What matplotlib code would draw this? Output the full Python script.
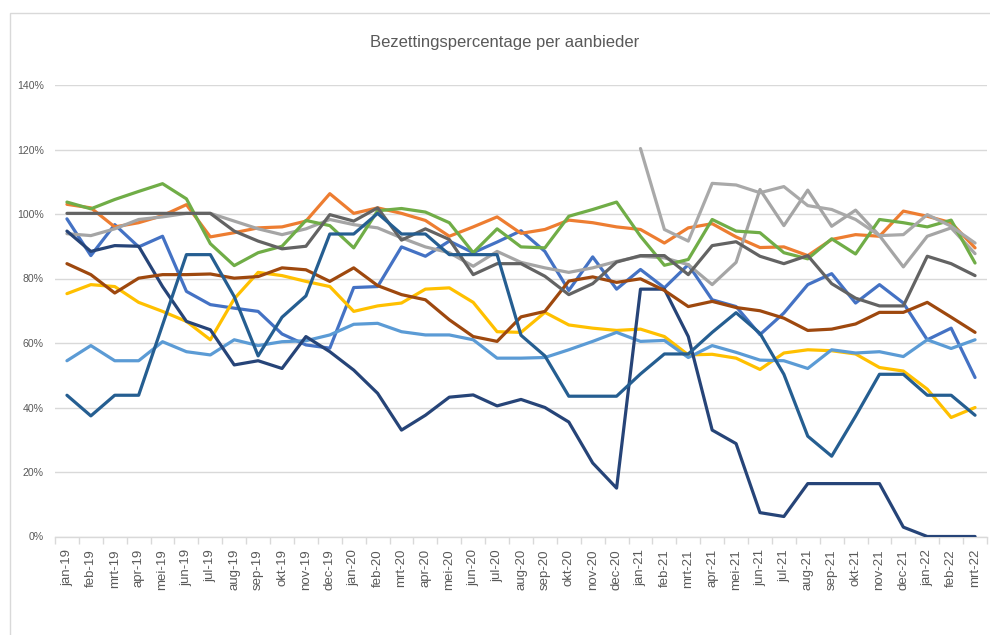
import numpy as np
import matplotlib
matplotlib.use("Agg")
import matplotlib.pyplot as plt
from matplotlib.patches import Rectangle
from matplotlib.ticker import FixedLocator, PercentFormatter

plt.rcParams["font.family"] = ["Liberation Sans", "DejaVu Sans"]

months = [
    "jan-19", "feb-19", "mrt-19", "apr-19", "mei-19", "jun-19", "jul-19", "aug-19", "sep-19", "okt-19", "nov-19", "dec-19",
    "jan-20", "feb-20", "mrt-20", "apr-20", "mei-20", "jun-20", "jul-20", "aug-20", "sep-20", "okt-20", "nov-20", "dec-20",
    "jan-21", "feb-21", "mrt-21", "apr-21", "mei-21", "jun-21", "jul-21", "aug-21", "sep-21", "okt-21", "nov-21", "dec-21",
    "jan-22", "feb-22", "mrt-22",
]

nan = np.nan

# bezetting per aanbieder, in procenten
aanbieder_1 = [98.5, 87.1, 96.7, 89.8, 93.1, 76.0, 71.9, 70.8, 69.8, 62.8, 59.4, 58.4,
               77.2, 77.5, 89.8, 86.9, 91.6, 88.0, 91.3, 94.8, 88.4, 76.3, 86.7, 76.7,
               82.8, 77.1, 84.3, 73.4, 71.3, 62.6, 69.3, 78.1, 81.5, 72.4, 78.1, 72.4,
               61.0, 64.6, 49.3]
aanbieder_2 = [103.0, 101.9, 96.0, 97.3, 99.5, 102.9, 92.9, 94.2, 95.7, 96.0, 97.8, 106.3,
               100.2, 101.9, 100.2, 98.0, 93.1, 96.0, 99.1, 94.0, 95.2, 98.1, 97.3, 96.0,
               95.2, 91.0, 95.7, 97.0, 92.9, 89.6, 89.8, 87.1, 92.1, 93.6, 93.1, 100.9,
               99.3, 97.3, 89.5]
aanbieder_3 = [93.9, 93.3, 95.4, 98.3, 99.1, 100.2, 100.2, 97.8, 95.4, 93.6, 95.4, 98.3,
               96.7, 95.7, 92.6, 89.8, 88.0, 83.8, 88.4, 85.0, 83.3, 81.9, 83.3, 85.3,
               86.9, 86.4, 84.3, 78.1, 85.0, 107.6, 96.4, 107.4, 96.2, 101.2, 93.3, 83.6,
               93.1, 95.7, 87.7]
aanbieder_4 = [75.3, 78.1, 77.5, 72.6, 69.8, 66.7, 61.0, 73.7, 81.9, 80.9, 79.1, 77.5,
               69.8, 71.5, 72.4, 76.7, 77.1, 72.6, 63.5, 63.3, 69.5, 65.6, 64.6, 63.9,
               64.3, 62.0, 56.3, 56.5, 55.3, 51.8, 56.9, 57.9, 57.6, 56.6, 52.4, 51.3,
               45.7, 36.9, 40.0]
aanbieder_5 = [54.5, 59.2, 54.5, 54.5, 60.4, 57.3, 56.3, 61.0, 59.2, 60.4, 60.7, 62.5,
               65.8, 66.1, 63.5, 62.5, 62.5, 61.0, 55.3, 55.3, 55.5, 57.9, 60.5, 63.3,
               60.5, 60.8, 55.5, 59.2, 57.1, 54.7, 54.5, 52.1, 57.9, 56.9, 57.3, 55.8,
               61.0, 58.3, 61.0]
aanbieder_6 = [103.7, 101.6, 104.5, 107.0, 109.4, 104.7, 90.8, 84.0, 88.0, 90.0, 98.0, 96.4,
               89.5, 101.0, 101.7, 100.6, 97.3, 88.0, 95.4, 89.8, 89.5, 99.3, 101.4, 103.7,
               93.1, 84.1, 85.9, 98.3, 94.7, 94.2, 88.0, 86.1, 92.3, 87.6, 98.3, 97.3,
               96.0, 98.1, 84.8]
aanbieder_7 = [94.7, 88.4, 90.2, 90.0, 77.5, 66.7, 64.1, 53.2, 54.5, 52.1, 62.0, 57.3,
               51.6, 44.4, 33.0, 37.6, 43.2, 43.9, 40.5, 42.5, 40.0, 35.5, 22.8, 15.0,
               76.7, 76.7, 62.0, 33.0, 28.8, 7.4, 6.2, 16.4, 16.4, 16.4, 16.4, 2.9,
               0.0, 0.0, 0.0]
aanbieder_8 = [84.6, 81.2, 75.5, 80.1, 81.2, 81.2, 81.4, 80.1, 80.6, 83.3, 82.7, 79.1,
               83.3, 77.8, 75.0, 73.4, 67.2, 62.0, 60.5, 68.1, 69.8, 79.2, 80.5, 78.8,
               79.9, 76.3, 71.3, 72.9, 71.0, 70.0, 67.7, 63.9, 64.3, 65.9, 69.5, 69.5,
               72.6, 68.0, 63.3]
aanbieder_9 = [100.2, 100.2, 100.2, 100.2, 100.2, 100.2, 100.2, 94.7, 91.6, 89.2, 90.0, 99.8,
               97.8, 101.9, 91.9, 95.4, 92.1, 81.2, 84.6, 84.6, 80.7, 75.0, 78.4, 85.1,
               87.1, 87.1, 81.2, 90.2, 91.4, 86.9, 84.6, 87.1, 78.4, 73.9, 71.5, 71.5,
               86.9, 84.6, 80.9]
aanbieder_10 = [43.8, 37.4, 43.8, 43.8, 65.6, 87.4, 87.4, 74.4, 56.0, 68.0, 74.6, 93.8,
                93.8, 100.2, 93.8, 93.8, 87.4, 87.4, 87.4, 62.4, 56.0, 43.5, 43.5, 43.5,
                50.4, 56.6, 56.6, 63.3, 69.4, 63.0, 50.3, 31.1, 24.9, 37.3, 50.3, 50.3,
                43.8, 43.8, 37.6]
aanbieder_11 = [nan, nan, nan, nan, nan, nan, nan, nan, nan, nan, nan, nan,
                nan, nan, nan, nan, nan, nan, nan, nan, nan, nan, nan, nan,
                120.3, 95.2, 91.6, 109.5, 109.0, 106.6, 108.5, 102.6, 101.4, 98.3, 93.3, 93.6,
                99.8, 96.2, 91.0]

series = [
    (aanbieder_1, "#4472C4"),
    (aanbieder_2, "#ED7D31"),
    (aanbieder_3, "#A5A5A5"),
    (aanbieder_4, "#FFC000"),
    (aanbieder_5, "#5B9BD5"),
    (aanbieder_6, "#70AD47"),
    (aanbieder_7, "#264478"),
    (aanbieder_8, "#9E480E"),
    (aanbieder_9, "#636363"),
    (aanbieder_10, "#255E91"),
    (aanbieder_11, "#A9A9A9"),
]

W, H = 990, 635
fig = plt.figure(figsize=(W / 100, H / 100), dpi=100)
ax = fig.add_axes([55 / W, (H - 536.5) / H, (987 - 55) / W, (536.5 - 85) / H])

# chart border (runs off the right and bottom edge)
fig.patches.append(Rectangle((10 / W, -0.5), 2, 0.5 + (H - 13) / H, transform=fig.transFigure,
                             fill=False, edgecolor="#D9D9D9", linewidth=1))

x = np.arange(len(months))
for values, color in series:
    ax.plot(x, np.array(values, dtype=float), color=color, linewidth=2.3,
            solid_joinstyle="round", solid_capstyle="round", zorder=3)

ax.set_xlim(-0.5, len(months) - 0.5)
ax.set_ylim(0, 140)
ax.yaxis.set_major_locator(FixedLocator(np.arange(0, 141, 20)))
ax.yaxis.set_major_formatter(PercentFormatter(decimals=0))
ax.grid(axis="y", color="#D9D9D9", linewidth=1)
ax.set_axisbelow(True)

for side in ["top", "right", "left"]:
    ax.spines[side].set_visible(False)
ax.spines["bottom"].set_color("#D9D9D9")
ax.spines["bottom"].set_linewidth(1)

ax.set_xticks(x)
ax.set_xticklabels(months, rotation=90, fontsize=9.5, color="#595959")
ax.tick_params(axis="x", which="major", length=0, pad=9)
ax.set_xticks(np.arange(-0.5, len(months), 1), minor=True)
ax.tick_params(axis="x", which="minor", length=5, color="#D9D9D9", width=1)
ax.tick_params(axis="y", length=0, pad=8, labelsize=7.6, labelcolor="#595959")

fig.text(505 / W, 1 - 42 / H, "Bezettingspercentage per aanbieder", ha="center", va="center",
         fontsize=12, color="#595959")

fig.savefig("out.png", dpi=100)
